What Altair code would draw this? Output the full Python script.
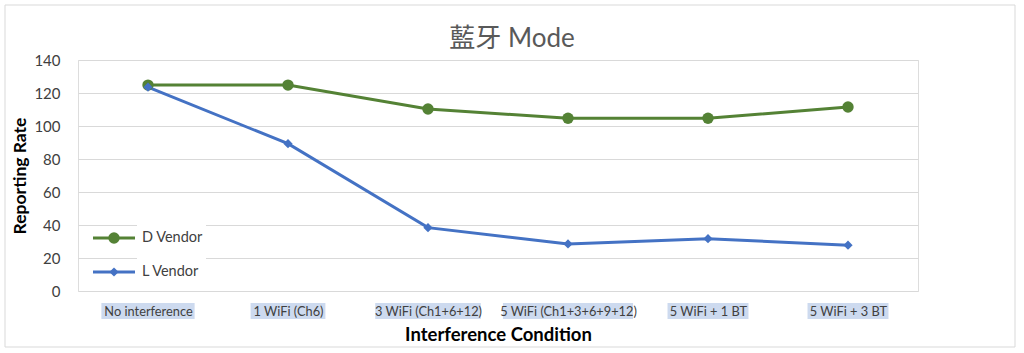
import altair as alt
import pandas as pd

categories = ["No interference", "1 WiFi (Ch6)", "3 WiFi (Ch1+6+12)",
              "5 WiFi (Ch1+3+6+9+12)", "5 WiFi + 1 BT", "5 WiFi + 3 BT"]
d_vendor = [124.8, 124.8, 110.3, 104.7, 104.7, 111.5]
l_vendor = [123.5, 89.3, 38.4, 28.5, 31.7, 27.8]
series_names = ["D Vendor", "L Vendor"]
colors = ["#548235", "#4472C4"]
marker_shapes = ["circle", "diamond"]
marker_sizes = [130, 85]

rows = []
for c, v in zip(categories, d_vendor):
    rows.append({"cond": c, "rate": v, "series": series_names[0]})
for c, v in zip(categories, l_vendor):
    rows.append({"cond": c, "rate": v, "series": series_names[1]})
df = pd.DataFrame(rows)
legend_df = pd.DataFrame({"series": series_names})
cat_df = pd.DataFrame({"cond": categories})

FONT = "Lato, Noto Sans CJK TC, sans-serif"

x = alt.X("cond:N", sort=categories, scale=alt.Scale(type="point", padding=0.5),
          axis=alt.Axis(title="Interference Condition", labelAngle=0, ticks=False,
                        domain=False, grid=False, labelFontSize=12.8, labelColor="#404040",
                        labelPadding=14, titleFontSize=18.5, titleFontWeight="bold",
                        titleColor="#000000", titlePadding=8, labelFont=FONT, titleFont=FONT,
                        zindex=1))
y_axis = alt.Axis(title="Reporting Rate", values=list(range(0, 141, 20)), ticks=False,
                  domain=False, grid=True, gridColor="#d9d9d9", gridWidth=1,
                  labelFontSize=15, labelColor="#404040", labelPadding=18,
                  titleFontSize=17.5, titleFontWeight="bold", titleColor="#000000",
                  titlePadding=4, labelFont=FONT, titleFont=FONT)
y_scale = alt.Scale(domain=[0, 140], nice=False)

color_scale = alt.Scale(domain=series_names, range=colors)
shape_scale = alt.Scale(domain=series_names, range=marker_shapes)
size_scale = alt.Scale(domain=series_names, range=marker_sizes)

# light-blue highlight behind the category labels (width follows label length)
highlight = alt.Chart(cat_df).transform_calculate(
    w="length(datum.cond) * 6.15 + 1"
).mark_tick(orient="horizontal", thickness=16, color="#cddaef", opacity=1).encode(
    x=x, y=alt.value(251), size=alt.Size("w:Q", scale=None))

base = alt.Chart(df)
lines = base.mark_line(strokeWidth=3).encode(
    x=x, y=alt.Y("rate:Q", scale=y_scale, axis=y_axis),
    color=alt.Color("series:N", scale=color_scale, legend=None),
    detail="series:N",
)
points = base.mark_point(filled=True, opacity=1).encode(
    x=x, y=alt.Y("rate:Q", scale=y_scale, axis=None),
    color=alt.Color("series:N", scale=color_scale, legend=None),
    shape=alt.Shape("series:N", scale=shape_scale, legend=None),
    size=alt.Size("series:N", scale=size_scale, legend=None),
)

# hand-built legend (inside the plot, bottom-left)
leg_y = alt.Y("series:N", scale=alt.Scale(type="point", domain=series_names,
                                          range=[178, 212], padding=0), axis=None)
leg_base = alt.Chart(legend_df)
leg_bg = alt.Chart(pd.DataFrame({"k": [0]})).mark_rect(fill="white", stroke=None).encode(
    x=alt.value(59), x2=alt.value(128), y=alt.value(160), y2=alt.value(226))
leg_rule = leg_base.mark_rule(strokeWidth=3).encode(
    x=alt.value(15), x2=alt.value(57), y=leg_y,
    color=alt.Color("series:N", scale=color_scale, legend=None))
leg_pt = leg_base.mark_point(filled=True, opacity=1).encode(
    x=alt.value(36), y=leg_y,
    color=alt.Color("series:N", scale=color_scale, legend=None),
    shape=alt.Shape("series:N", scale=shape_scale, legend=None),
    size=alt.Size("series:N", scale=size_scale, legend=None))
leg_txt = leg_base.mark_text(align="left", baseline="middle", fontSize=14.5, font=FONT,
                             color="#404040").encode(
    x=alt.value(64), y=leg_y, text="series:N")

border = alt.Chart(pd.DataFrame({"k": [0]})).mark_rect(
    fill=None, stroke="#d9d9d9", strokeWidth=1
).encode(x=alt.value(-73), x2=alt.value(937), y=alt.value(-55), y2=alt.value(287))

chart = alt.layer(border, highlight, lines, points, leg_bg, leg_rule, leg_pt, leg_txt).resolve_scale(
    y="independent"
).properties(
    width=840, height=231,
    title=alt.Title("藍牙 Mode", fontSize=26, font=FONT, color="#595959",
                    fontWeight="normal", anchor="middle", dx=14, offset=-47),
    autosize=alt.AutoSizeParams(type="none"),
    padding={"left": 78, "top": 60, "right": 106, "bottom": 62},
).configure_view(stroke=None).configure(background="white")

chart.save("out.html", embed_options={"renderer": "svg", "actions": False})
